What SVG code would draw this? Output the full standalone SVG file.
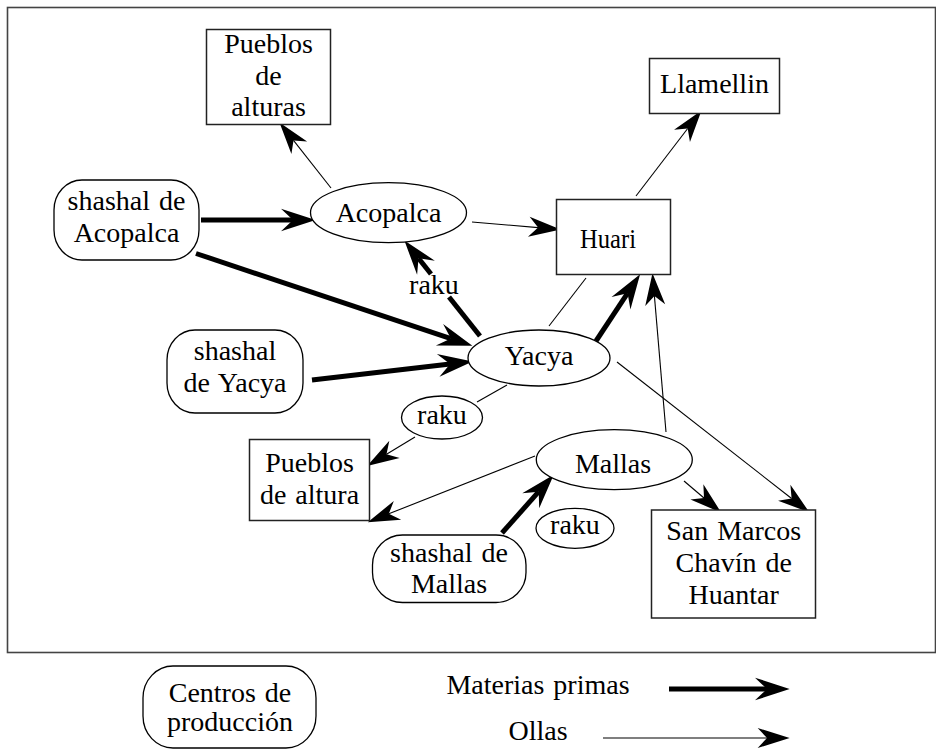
<svg xmlns="http://www.w3.org/2000/svg" width="936" height="750" viewBox="0 0 936 750">
<defs>
<marker id="ah" markerUnits="userSpaceOnUse" markerWidth="40" markerHeight="30" refX="0" refY="0" viewBox="-10 -10 30 20" orient="auto" overflow="visible">
<path d="M0,0 L-7,-7.5 L17,0 L-7,7.5 Z" fill="#000"/>
</marker>
<marker id="ahk" markerUnits="userSpaceOnUse" markerWidth="40" markerHeight="30" refX="0" refY="0" viewBox="-10 -10 30 20" orient="auto" overflow="visible">
<path d="M0,0 L-9,-8.5 L17,0 L-9,8.5 Z" fill="#000"/>
</marker>
</defs>
<style>
text{font-family:"Liberation Serif","Times New Roman",serif;font-size:28px;fill:#000;text-anchor:middle;word-spacing:2px}
.box{fill:#fff;stroke:#222;stroke-width:1.5}
.ell{fill:#fff;stroke:#000;stroke-width:1.3}
.thin{fill:none;stroke:#000;stroke-width:1.1}
.thick{fill:none;stroke:#000;stroke-width:5}
.thin.arr{marker-end:url(#ah)}
.thick.arr{marker-end:url(#ahk)}
</style>
<rect x="7.5" y="7.5" width="928" height="645" fill="#fff" stroke="#444" stroke-width="1.6"/>

<g id="connectors">
<line class="thick arr" x1="201" y1="220" x2="293" y2="220"/>
<line class="thick arr" x1="196" y1="253.5" x2="450.9" y2="338.6"/>
<line class="thick arr" x1="312" y1="380" x2="450.1" y2="364"/>
<line class="thick" x1="480" y1="336" x2="449" y2="297"/>
<line class="thick arr" x1="431" y1="274" x2="418.5" y2="258.3"/>
<line class="thick arr" x1="596" y1="341" x2="627.6" y2="293.2"/>
<line class="thick arr" x1="502" y1="533" x2="538.7" y2="491.7"/>
<line class="thin arr" x1="331" y1="188" x2="293.5" y2="140.4"/>
<line class="thin arr" x1="472" y1="222" x2="538.1" y2="227.6"/>
<line class="thin arr" x1="636" y1="196" x2="687.7" y2="128.5"/>
<line class="thin" x1="549" y1="326" x2="586" y2="278"/>
<line class="thin arr" x1="666" y1="432" x2="654.4" y2="295.9"/>
<line class="thin arr" x1="617" y1="362" x2="791.6" y2="498.5"/>
<line class="thin" x1="507" y1="385" x2="477" y2="402"/>
<line class="thin arr" x1="415" y1="437" x2="386.5" y2="454.2"/>
<line class="thin arr" x1="535" y1="456" x2="388.8" y2="513.8"/>
<line class="thin arr" x1="684" y1="481" x2="704" y2="498"/>
<text x="434" y="294">raku</text>
</g>

<g id="pueblos-alturas">
<rect class="box" x="206.5" y="29.5" width="124" height="95"/>
<text x="268.5" y="53">Pueblos</text>
<text x="268.5" y="84.5">de</text>
<text x="268.5" y="116">alturas</text>
</g>
<g id="llamellin">
<rect class="box" x="649.5" y="58.5" width="130" height="55"/>
<text x="714.5" y="92.5">Llamellin</text>
</g>
<g id="huari">
<rect class="box" x="556.5" y="199.5" width="114" height="75"/>
<text x="608" y="247.5" textLength="56" lengthAdjust="spacingAndGlyphs">Huari</text>
</g>
<g id="acopalca">
<ellipse class="ell" cx="388.5" cy="212.7" rx="78" ry="30"/>
<text x="388.5" y="221.5">Acopalca</text>
</g>
<g id="shashal-acopalca">
<rect class="ell" x="54" y="180" width="145" height="80" rx="28" ry="30"/>
<text x="126.5" y="210">shashal de</text>
<text x="126.5" y="242">Acopalca</text>
</g>
<g id="shashal-yacya">
<rect class="ell" x="167" y="330" width="136" height="83" rx="28" ry="30"/>
<text x="235" y="360">shashal</text>
<text x="235" y="391.5">de Yacya</text>
</g>
<g id="yacya">
<ellipse class="ell" cx="539" cy="358" rx="71" ry="28"/>
<text x="539" y="365">Yacya</text>
</g>
<g id="raku-1">
<ellipse class="ell" cx="442" cy="417.5" rx="40.5" ry="21.5"/>
<text x="442" y="423.5">raku</text>
</g>
<g id="pueblos-altura">
<rect class="box" x="249.5" y="439.5" width="120" height="81"/>
<text x="309.5" y="471.5">Pueblos</text>
<text x="309.5" y="503.5">de altura</text>
</g>
<g id="mallas">
<ellipse class="ell" cx="614.3" cy="459.7" rx="78" ry="30"/>
<text x="613" y="473">Mallas</text>
</g>
<g id="raku-2">
<ellipse class="ell" cx="575" cy="528.3" rx="39" ry="20"/>
<text x="575" y="533.5">raku</text>
</g>
<g id="shashal-mallas">
<rect class="ell" x="372.5" y="535" width="153.5" height="67.5" rx="30" ry="30"/>
<text x="449" y="561.5">shashal de</text>
<text x="449" y="592.5">Mallas</text>
</g>
<g id="san-marcos">
<rect class="box" x="651.5" y="510" width="164" height="108"/>
<text x="733.7" y="540">San Marcos</text>
<text x="733.7" y="571.7">Chavín de</text>
<text x="733.7" y="604">Huantar</text>
</g>

<g id="legend">
<rect class="ell" x="143" y="666" width="173" height="82" rx="30" ry="32"/>
<text x="230" y="701.5">Centros de</text>
<text x="230" y="731">producción</text>
<text x="538" y="694">Materias primas</text>
<line class="thick arr" x1="669" y1="689" x2="767" y2="689"/>
<text x="538" y="740">Ollas</text>
<line class="thin arr" x1="603" y1="738" x2="767" y2="738"/>
</g>
</svg>
